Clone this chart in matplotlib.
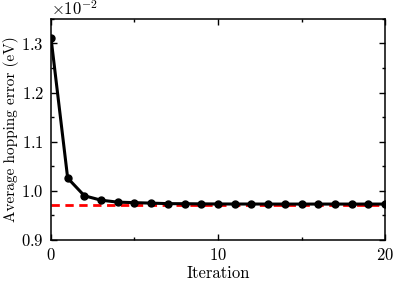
import matplotlib
matplotlib.use("Agg")
import matplotlib.pyplot as plt
from matplotlib.ticker import MultipleLocator

plt.rcParams['font.family'] = 'serif'
plt.rcParams['font.serif'] = ['cmr10']
plt.rcParams['mathtext.fontset'] = 'cm'
plt.rcParams['axes.unicode_minus'] = False
plt.rcParams['axes.formatter.use_mathtext'] = True
plt.rcParams['font.size'] = 12

iterations = list(range(21))
errors = [0.01312, 0.01026, 0.00990, 0.00981, 0.00977, 0.00976, 0.00975, 0.00974,
          0.009738, 0.009735, 0.009733, 0.009732, 0.009732, 0.009731, 0.009731,
          0.009731, 0.009731, 0.009731, 0.009731, 0.009731, 0.009731]
reference = 0.00972

fig = plt.figure(figsize=(3.95, 2.82), dpi=100)
ax = fig.add_axes([0.129, 0.149, 0.846, 0.784])

ax.axhline(reference, color='red', linestyle='--', linewidth=2, dashes=(3, 2), zorder=1)
ax.plot(iterations, errors, color='black', linewidth=2.2, marker='o', markersize=5, zorder=2)

ax.set_xlim(0, 20)
ax.set_ylim(0.009, 0.0135)
ax.xaxis.set_major_locator(MultipleLocator(10))
ax.xaxis.set_minor_locator(MultipleLocator(5))
ax.yaxis.set_major_locator(MultipleLocator(0.001))
ax.yaxis.set_minor_locator(MultipleLocator(0.0005))
ax.ticklabel_format(axis='y', style='sci', scilimits=(-2, -2))
ax.tick_params(which='both', direction='in', top=True, right=True, width=1)
ax.tick_params(which='major', length=4, pad=5)
ax.tick_params(which='minor', length=2.5)
for s in ax.spines.values():
    s.set_linewidth(1.1)

ax.set_xlabel('Iteration', labelpad=2)
ax.set_ylabel('Average hopping error (eV)', fontsize=11, labelpad=2)

fig.savefig('out.png', dpi=100)
